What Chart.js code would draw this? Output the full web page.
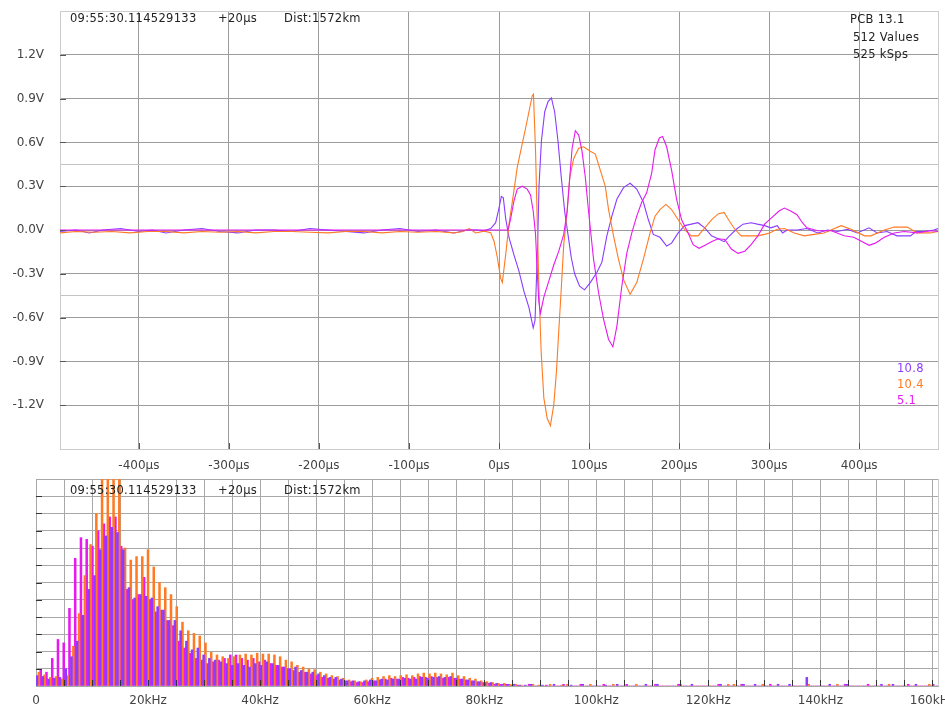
<!DOCTYPE html>
<html>
<head>
<meta charset="utf-8" />
<title>Waveform and spectrum</title>
<script src="https://cdn.jsdelivr.net/npm/chart.js"></script>
<style>
  * { box-sizing: border-box; margin: 0; padding: 0; }
  body { width: 945px; height: 708px; overflow: hidden; background: #fff; position: relative; font-family: "DejaVu Sans", sans-serif; }
  #wave { position: absolute; left: 0; top: 0; }
  #spec { position: absolute; left: 0; top: 475px; }
  .note { position: absolute; font-size: 11.5px; color: #222; white-space: pre; line-height: 13px; letter-spacing: 0.3px; }
</style>
</head>
<body>
<canvas id="wave" width="945" height="475"></canvas>
<canvas id="spec" width="945" height="233"></canvas>

<div class="note" style="left:70px;top:12px">09:55:30.114529133</div>
<div class="note" style="left:218px;top:12px">+20µs</div>
<div class="note" style="left:284px;top:12px">Dist:1572km</div>
<div class="note" style="left:850px;top:13px">PCB 13.1</div>
<div class="note" style="left:853px;top:31px">512 Values</div>
<div class="note" style="left:853px;top:48px">525 kSps</div>
<div class="note" style="left:897px;top:362px;color:#8a3cff">10.8</div>
<div class="note" style="left:897px;top:378px;color:#ff7a22">10.4</div>
<div class="note" style="left:897px;top:394px;color:#e61aef">5.1</div>
<div class="note" style="left:70px;top:484px">09:55:30.114529133</div>
<div class="note" style="left:218px;top:484px">+20µs</div>
<div class="note" style="left:284px;top:484px">Dist:1572km</div>

<script>
  // waveform: time (µs) / voltage (V)
  const tPurple = [
    -488, -470, -455, -440, -420, -400, -385, -370, -350, -330,
    -310, -290, -270, -250, -230, -210, -190, -170, -150, -130,
    -110, -90, -70, -50, -35, -25, -16.6, -9.2, -3.7, 0,
    2.6, 4.8, 7.4, 11.1, 16.6, 22.1, 27.7, 33.2, 38, 40,
    42.7, 44.5, 47.1, 50.8, 54.5, 58.2, 61.8, 65.5, 69.2, 72.9,
    76.6, 80.3, 84, 89.5, 95, 101.4, 108.8, 114.3, 119.8, 125.4,
    130.9, 138.3, 145.6, 153, 160.4, 165.9, 171.4, 178.8, 186.2, 191.7,
    199, 206.4, 213.7, 221, 228.6, 236, 243.4, 250, 256, 263.6,
    271, 280, 287, 295, 302, 309, 315, 320, 331, 342,
    354, 365, 376, 387, 398, 411, 420, 431, 442, 457,
    463, 472, 483, 488
  ];
  const vPurple = [
    -0.01, 0.0, -0.02, 0.0, 0.01, -0.01, 0.0, -0.02, 0.0, 0.01,
    -0.01, -0.02, 0.0, 0.0, -0.01, 0.01, 0.0, -0.01, -0.02, 0.0,
    0.01, -0.01, 0.0, -0.02, 0.0, 0.0, -0.005, 0.01, 0.05, 0.15,
    0.23, 0.22, 0.08, -0.05, -0.17, -0.28, -0.42, -0.53, -0.67, -0.62,
    -0.145, 0.31, 0.61, 0.81, 0.88, 0.905, 0.81, 0.61, 0.36, 0.13,
    -0.03, -0.19, -0.30, -0.385, -0.41, -0.36, -0.29, -0.22, -0.04, 0.095,
    0.21, 0.29, 0.32, 0.28, 0.19, 0.07, -0.03, -0.05, -0.11, -0.09,
    -0.02, 0.03, 0.04, 0.05, 0.015, -0.04, -0.06, -0.08, -0.04, 0.005,
    0.04, 0.05, 0.04, 0.03, 0.015, 0.03, -0.02, 0.0, 0.0, 0.01,
    -0.02, 0.0, -0.01, 0.005, -0.02, 0.015, -0.02, -0.01, -0.04, -0.04,
    -0.01, -0.01, 0.0, 0.01
  ];
  const tOrange = [
    -488, -470, -450, -430, -410, -390, -370, -350, -330, -310,
    -290, -270, -250, -230, -210, -190, -170, -150, -130, -110,
    -90, -70, -50, -40, -33, -26, -16.6, -9.2, -5.5, -1.8,
    1.8, 3.7, 7.4, 11.1, 16.6, 20.3, 25.8, 31.3, 36.9, 38.3,
    40.6, 42.4, 44.2, 46.8, 49.8, 53.5, 57.1, 60.8, 63.8, 66.4,
    69, 71.9, 75.7, 78.6, 83, 88.5, 94, 101.4, 107, 112.5,
    118, 121.7, 127.2, 132.7, 138.3, 145.6, 153, 160.4, 167.8, 173.3,
    178.8, 185.4, 191.7, 199, 206.4, 213.7, 221, 228.6, 236, 243.4,
    250, 256, 262, 269, 280, 287, 295, 300.5, 309, 317,
    328, 339, 350, 361, 380, 391, 406, 413, 428, 439,
    453.5, 464.6, 479, 488
  ];
  const vOrange = [
    -0.02, -0.01, -0.015, -0.01, -0.02, -0.01, -0.01, -0.02, -0.01, -0.015,
    -0.01, -0.02, -0.01, -0.01, -0.015, -0.02, -0.01, -0.01, -0.02, -0.01,
    -0.015, -0.01, -0.02, -0.01, 0.01, -0.02, -0.008, -0.019, -0.077, -0.19,
    -0.33, -0.36, -0.17, 0.04, 0.27, 0.43, 0.59, 0.75, 0.92, 0.93,
    0.54, 0.08, -0.37, -0.83, -1.15, -1.29, -1.34, -1.20, -0.97, -0.69,
    -0.42, -0.10, 0.13, 0.36, 0.49, 0.56, 0.57, 0.54, 0.52, 0.41,
    0.30, 0.14, -0.04, -0.20, -0.34, -0.44, -0.36, -0.20, -0.02, 0.095,
    0.14, 0.175, 0.14, 0.07, 0.0, -0.04, -0.04, 0.015, 0.07, 0.11,
    0.12, 0.06, 0.005, -0.04, -0.04, -0.04, -0.03, -0.02, 0.005, 0.01,
    -0.02, -0.04, -0.03, -0.02, 0.03, 0.005, -0.04, -0.04, 0.0, 0.02,
    0.02, -0.02, -0.02, -0.01
  ];
  const tMagenta = [
    -488, -400, -300, -200, -100, 0, 10, 13, 16.6, 20.3,
    25.8, 31.3, 35, 38, 40.6, 42.4, 44.2, 46, 49.8, 55.3,
    60.8, 66.4, 71.9, 75.7, 78.6, 81.2, 84.8, 88.5, 92.2, 95.9,
    99.6, 105, 110.6, 116.1, 121.7, 126.5, 130.9, 136.4, 141.9, 147.5,
    153, 158.5, 164, 169.6, 173.3, 178.1, 181.7, 186.2, 191.7, 197.3,
    202.8, 210.1, 215.6, 222.2, 230.4, 236, 243.4, 250.8, 258, 265.5,
    273, 280, 287.5, 295, 302, 311, 317, 324, 331, 337,
    342, 354, 369, 383.5, 394, 402, 411, 418, 428, 439,
    450, 464.6, 479, 488
  ];
  const vMagenta = [
    0, 0, 0, 0, 0, 0, 0.0, 0.08, 0.20, 0.28,
    0.30, 0.28, 0.24, 0.13, -0.03, -0.28, -0.49, -0.57, -0.46, -0.35,
    -0.24, -0.145, -0.03, 0.13, 0.36, 0.56, 0.68, 0.65, 0.54, 0.36,
    0.12, -0.20, -0.43, -0.61, -0.75, -0.80, -0.66, -0.385, -0.16, -0.02,
    0.095, 0.19, 0.255, 0.39, 0.55, 0.63, 0.64, 0.57, 0.41, 0.21,
    0.07, -0.02, -0.10, -0.125, -0.10, -0.08, -0.06, -0.065, -0.13, -0.16,
    -0.145, -0.10, -0.04, 0.04, 0.08, 0.13, 0.15, 0.13, 0.105, 0.05,
    0.015, -0.005, -0.005, -0.04, -0.05, -0.075, -0.105, -0.09, -0.05, -0.02,
    -0.01, -0.02, -0.005, -0.01
  ];

  const timeTicks = [-487.6, -400, -300, -200, -100, 0, 100, 200, 300, 400, 487.6];
  const voltTicks = [-1.5, -1.2, -0.9, -0.6, -0.45, -0.3, 0, 0.3, 0.45, 0.6, 0.9, 1.2, 1.5];
  const voltLabelled = [-1.2, -0.9, -0.6, -0.3, 0, 0.3, 0.6, 0.9, 1.2];

  // spectrum: one value per FFT bin (525 kSps / 512 values), grid units
  const binWidthKHz = 525 / 512;
  const specPurple = [
    0.6, 0.55, 0.4, 0.45, 0.5, 1.0, 1.7, 2.6, 4.1, 5.6,
    6.4, 7.9, 8.7, 9.2, 8.9, 7.9, 5.7, 5.1, 5.3, 5.2,
    5.1, 4.6, 4.4, 3.8, 3.8, 3.2, 2.6, 2.1, 2.2, 1.8,
    1.6, 1.5, 1.4, 1.3, 1.2, 1.3, 1.2, 1.1, 1.3, 1.2,
    1.4, 1.3, 1.2, 1.1, 1.0, 1.1, 0.9, 0.8, 0.8, 0.7,
    0.6, 0.5, 0.5, 0.4, 0.3, 0.3, 0.25, 0.3, 0.35, 0.3,
    0.4, 0.35, 0.4, 0.4, 0.45, 0.4, 0.4, 0.5, 0.45, 0.5,
    0.55, 0.5, 0.55, 0.45, 0.4, 0.35, 0.3, 0.25, 0.2, 0.2,
    0.15, 0.1, 0.1, 0.1, 0.05, 0.05, 0.1, 0, 0.05, 0,
    0.1, 0, 0, 0.05, 0, 0.1, 0, 0, 0, 0.05,
    0, 0.1, 0, 0, 0, 0, 0.1, 0, 0.1, 0,
    0, 0, 0.1, 0, 0.1, 0, 0, 0, 0, 0.1,
    0, 0, 0, 0.1, 0, 0.1, 0, 0, 0, 0.1,
    0, 0.1, 0, 0, 0.5, 0, 0, 0, 0.1, 0,
    0, 0.1, 0, 0, 0, 0, 0, 0.1, 0, 0.1,
    0, 0, 0, 0.1, 0, 0, 0.1
  ];
  const specOrange = [
    0.8, 0.65, 0.5, 0.55, 0.4, 0.6, 2.3, 4.2, 6.4, 8.2,
    10.0, 12.5, 12.5, 12.5, 12.5, 8.0, 7.3, 7.5, 7.5, 7.9,
    6.9, 6.0, 5.7, 5.3, 4.6, 3.7, 3.2, 3.05, 2.9, 2.5,
    1.95, 1.8, 1.7, 1.6, 1.7, 1.8, 1.85, 1.8, 1.9, 1.85,
    1.85, 1.8, 1.7, 1.5, 1.4, 1.2, 1.1, 1.0, 0.95, 0.8,
    0.7, 0.6, 0.55, 0.45, 0.35, 0.3, 0.25, 0.35, 0.45, 0.5,
    0.55, 0.6, 0.55, 0.6, 0.65, 0.6, 0.7, 0.75, 0.7, 0.75,
    0.7, 0.65, 0.75, 0.6, 0.55, 0.45, 0.4, 0.3, 0.25, 0.2,
    0.15, 0.15, 0.1, 0.1, 0.05, 0, 0.1, 0.05, 0, 0.1,
    0, 0.05, 0.1, 0, 0, 0, 0.1, 0, 0, 0,
    0.1, 0, 0, 0, 0.1, 0, 0, 0, 0, 0,
    0, 0, 0, 0, 0, 0, 0, 0, 0, 0,
    0.1, 0.1, 0, 0, 0, 0, 0.1, 0, 0, 0,
    0, 0, 0, 0, 0.1, 0, 0, 0, 0, 0.1,
    0, 0, 0, 0, 0, 0, 0, 0, 0.1, 0,
    0, 0, 0, 0, 0, 0.1, 0
  ];
  const specMagenta = [
    0.95, 0.8, 1.6, 2.7, 2.5, 4.5, 7.4, 8.6, 8.5, 8.1,
    9.0, 9.4, 9.8, 9.8, 8.1, 5.6, 5.0, 5.3, 6.3, 5.0,
    4.3, 4.4, 3.8, 3.5, 2.6, 2.2, 1.9, 1.6, 1.5, 1.3,
    1.4, 1.5, 1.6, 1.8, 1.8, 1.6, 1.5, 1.6, 1.4, 1.5,
    1.3, 1.2, 1.1, 1.0, 0.9, 0.8, 0.8, 0.7, 0.6, 0.5,
    0.45, 0.4, 0.35, 0.3, 0.25, 0.2, 0.2, 0.25, 0.3, 0.35,
    0.4, 0.45, 0.4, 0.5, 0.45, 0.5, 0.55, 0.5, 0.55, 0.5,
    0.45, 0.5, 0.45, 0.4, 0.35, 0.3, 0.25, 0.2, 0.15, 0.1,
    0.1, 0.1, 0.05, 0.05, 0, 0.1, 0, 0, 0.05, 0,
    0, 0.1, 0, 0, 0.1, 0, 0, 0, 0.1, 0,
    0, 0, 0.1, 0, 0, 0, 0, 0.1, 0, 0,
    0, 0.1, 0, 0, 0, 0, 0, 0, 0.1, 0,
    0, 0, 0.1, 0, 0, 0, 0, 0.1, 0, 0,
    0, 0, 0, 0, 0, 0, 0, 0, 0, 0,
    0.1, 0, 0, 0, 0.1, 0, 0, 0, 0, 0,
    0, 0.1, 0, 0, 0, 0, 0
  ];
  const freqLabelled = [0, 20, 40, 60, 80, 100, 120, 140, 160];
  const freqMaxKHz = 161;

  const PURPLE = "#8a3cff";
  const ORANGE = "#ff7a22";
  const MAGENTA = "#e61aef";
  const GRID = "#9c9c9c";
  const EDGE = "#cccccc";
  const labelFont = { family: "DejaVu Sans", size: 12 };

  const pts = (ts, vs) => ts.map((t, i) => ({ x: t, y: vs[i] }));

  // short dark tick marks drawn inside the plot box at grid lines
  const tickMarks = {
    id: "tickMarks",
    afterDatasetsDraw(chart, args, opts) {
      const { ctx, chartArea: a, scales } = chart;
      ctx.save();
      ctx.strokeStyle = opts.color;
      ctx.lineWidth = 1;
      ctx.beginPath();
      scales.x.ticks.forEach((t) => {
        if (!opts.xOk(t.value)) return;
        const px = Math.round(scales.x.getPixelForValue(t.value)) + 0.5;
        ctx.moveTo(px, a.bottom);
        ctx.lineTo(px, a.bottom - opts.len);
      });
      scales.y.ticks.forEach((t) => {
        if (!opts.yOk(t.value)) return;
        const py = Math.round(scales.y.getPixelForValue(t.value)) + 0.5;
        ctx.moveTo(a.left, py);
        ctx.lineTo(a.left + opts.len, py);
      });
      ctx.stroke();
      ctx.restore();
    },
  };

  new Chart(document.getElementById("wave"), {
    type: "line",
    data: {
      datasets: [
        { label: "10.8", data: pts(tPurple, vPurple), borderColor: PURPLE, order: 3 },
        { label: "10.4", data: pts(tOrange, vOrange), borderColor: ORANGE, order: 2 },
        { label: "5.1", data: pts(tMagenta, vMagenta), borderColor: MAGENTA, order: 1 },
      ],
    },
    options: {
      responsive: false,
      animation: false,
      layout: { padding: { top: 11, right: 7, left: 0, bottom: 0 } },
      elements: { point: { radius: 0 }, line: { borderWidth: 1.1, tension: 0 } },
      plugins: {
        legend: { display: false },
        tooltip: { enabled: false },
        tickMarks: {
          color: "#555",
          len: 6,
          xOk: (v) => v > -450 && v < 450,
          yOk: (v) => voltLabelled.includes(v),
        },
      },
      scales: {
        x: {
          type: "linear",
          min: -487.6,
          max: 487.6,
          afterBuildTicks: (s) => { s.ticks = timeTicks.map((v) => ({ value: v })); },
          afterFit: (s) => { s.height = 26; s.paddingLeft = 0; s.paddingRight = 0; },
          grid: {
            drawTicks: false,
            color: (c) => (Math.abs(c.tick.value) > 450 ? EDGE : GRID),
          },
          border: { color: EDGE },
          ticks: {
            padding: 10,
            autoSkip: false,
            maxRotation: 0,
            color: "#444",
            font: labelFont,
            callback: (v) => (Math.abs(v) > 450 ? "" : v + "µs"),
          },
        },
        y: {
          min: -1.5,
          max: 1.5,
          afterBuildTicks: (s) => { s.ticks = voltTicks.map((v) => ({ value: v })); },
          afterFit: (s) => { s.width = 60; s.paddingTop = 0; s.paddingBottom = 0; },
          grid: {
            drawTicks: false,
            color: (c) => {
              const v = Math.abs(c.tick.value);
              if (v > 1.4) return EDGE;
              if (Math.abs(v - 0.45) < 0.01) return "#c4c4c4";
              return GRID;
            },
          },
          border: { color: EDGE },
          ticks: {
            padding: 16,
            color: "#444",
            font: labelFont,
            callback: (v) => (voltLabelled.includes(v) ? v.toFixed(1) + "V" : ""),
          },
        },
      },
    },
    plugins: [tickMarks],
  });

  const binKHz = specPurple.map((_, k) => (k + 0.5) * binWidthKHz);
  const gridKHz = [];
  for (let f = 0; f <= 160; f += 5) gridKHz.push(f);
  gridKHz.push(freqMaxKHz);

  new Chart(document.getElementById("spec"), {
    type: "bar",
    data: {
      datasets: [
        { label: "10.8", data: pts(binKHz, specPurple), backgroundColor: PURPLE },
        { label: "10.4", data: pts(binKHz, specOrange), backgroundColor: ORANGE },
        { label: "5.1", data: pts(binKHz, specMagenta), backgroundColor: MAGENTA },
      ],
    },
    options: {
      responsive: false,
      animation: false,
      layout: { padding: { top: 4, right: 7, left: 0, bottom: 0 } },
      datasets: { bar: { categoryPercentage: 1, barPercentage: 1 } },
      plugins: {
        legend: { display: false },
        tooltip: { enabled: false },
        tickMarks: {
          color: "#333",
          len: 6,
          xOk: (v) => v > 0 && v < freqMaxKHz,
          yOk: (v) => v > 0 && v < 12,
        },
      },
      scales: {
        x: {
          type: "linear",
          min: 0,
          max: freqMaxKHz,
          offset: false,
          afterBuildTicks: (s) => { s.ticks = gridKHz.map((v) => ({ value: v })); },
          afterFit: (s) => { s.height = 22; s.paddingLeft = 0; s.paddingRight = 0; },
          grid: {
            offset: false,
            drawTicks: false,
            color: (c) => (c.tick.value >= freqMaxKHz ? EDGE : "#a8a8a8"),
          },
          border: { color: "#a8a8a8" },
          ticks: {
            padding: 8,
            autoSkip: false,
            maxRotation: 0,
            color: "#444",
            font: labelFont,
            callback: (v) => (freqLabelled.includes(v) ? (v === 0 ? "0" : v + "kHz") : ""),
          },
        },
        y: {
          min: 0,
          max: 12,
          afterFit: (s) => { s.width = 36; s.paddingTop = 0; s.paddingBottom = 0; },
          grid: { drawTicks: false, color: "#a8a8a8" },
          border: { color: "#a8a8a8" },
          ticks: { stepSize: 1, display: false },
        },
      },
    },
    plugins: [tickMarks],
  });
</script>
</body>
</html>
